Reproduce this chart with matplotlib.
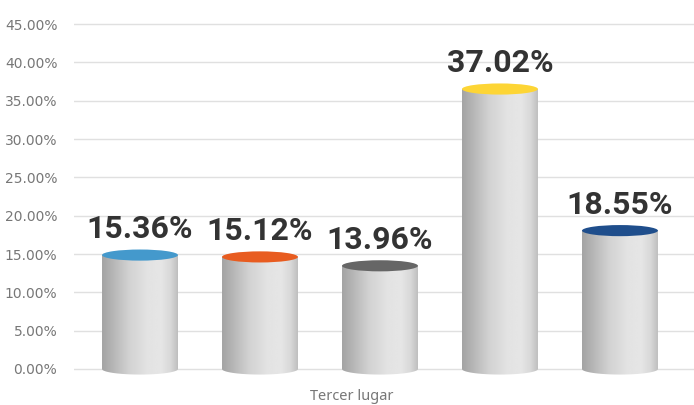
import matplotlib
matplotlib.use('Agg')
import matplotlib.pyplot as plt
import numpy as np
from matplotlib.patches import Ellipse, PathPatch
from matplotlib.path import Path

# data
categories = ['A', 'B', 'C', 'D', 'E']
values = [15.36, 15.12, 13.96, 37.02, 18.55]
value_labels = ['15.36%', '15.12%', '13.96%', '37.02%', '18.55%']
yticks = [0, 5, 10, 15, 20, 25, 30, 35, 40, 45]
xlabel = 'Tercer lugar'

top_colors = ['#4499cc', '#e85c20', '#666666', '#fdd535', '#1f4e8c']

W, H = 694, 405
ppu = (369 - 24) / 45          # pixels per percent
ylo, yhi = -0.9, 45.1
fig = plt.figure(figsize=(W / 100, H / 100), dpi=100)
ax = fig.add_axes([74 / W, (H - 369 + ylo * ppu) / H, (W - 74) / W, (yhi - ylo) * ppu / H])

width = 0.633
eh = 1.45         # ellipse height in data units
shift = 0.5       # top ellipse sits slightly below value

# horizontal shading profile of the cylinder body
t = np.linspace(0, 1, 300)
shade = np.interp(t, [0, 0.12, 0.35, 0.6, 0.78, 0.9, 0.97, 1.0],
                  [0.64, 0.70, 0.82, 0.89, 0.90, 0.85, 0.78, 0.74])
grad = np.tile(shade, (2, 1))

for i, v in enumerate(values):
    x0, x1 = i - width / 2, i + width / 2
    top = v - shift
    # body: straight top, half-ellipse bottom
    theta = np.linspace(np.pi, 2 * np.pi, 60)
    bx = i + width / 2 * np.cos(theta)
    by = eh / 2 * np.sin(theta)
    verts = [(x0, top)] + list(zip(bx, by)) + [(x1, top), (x0, top)]
    codes = [Path.MOVETO] + [Path.LINETO] * (len(verts) - 2) + [Path.CLOSEPOLY]
    body = PathPatch(Path(verts, codes), facecolor='none', edgecolor='none')
    ax.add_patch(body)
    im = ax.imshow(grad, cmap='gray', vmin=0, vmax=1, aspect='auto',
                   extent=[x0, x1, -eh, top], interpolation='bilinear', zorder=2)
    im.set_clip_path(body)
    ax.add_patch(Ellipse((i, top), width, eh, facecolor=top_colors[i],
                         edgecolor='none', zorder=3))
    ax.text(i, v + 1.7, value_labels[i], ha='center', va='baseline',
            fontsize=23, fontweight='bold', family='Roboto', color='#333333', zorder=4)

ax.set_xlim(-0.55, 4.617)
ax.set_ylim(ylo, yhi)
ax.set_yticks(yticks)
ax.set_yticklabels([f'{y:.2f}%' for y in yticks], fontsize=10,
                   family='DejaVu Sans', color='#777777')
ax.set_xticks([])
ax.tick_params(axis='y', length=0, pad=12)
ax.grid(axis='y', color='#e0e0e0', linewidth=1)
ax.set_axisbelow(True)
for s in ax.spines.values():
    s.set_visible(False)

fig.text(352 / W, (H - 399.5) / H, xlabel, ha='center', va='baseline',
         fontsize=10.5, family='Noto Sans', color='#777777')

fig.savefig('out.png', dpi=100)
